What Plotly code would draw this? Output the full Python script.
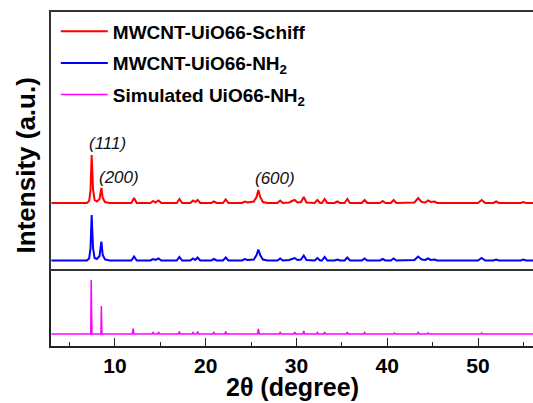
import plotly.graph_objects as go

# ---- data ----
schiff_x = [3.0, 6.9, 7.15, 7.3, 7.43, 7.58, 7.75, 8.0, 8.3, 8.5, 8.65, 8.9, 9.4,
            11.8, 12.1, 12.4, 13.9, 14.2, 14.45, 14.8, 15.1, 16.8, 17.1, 17.4,
            18.3, 18.6, 18.85, 19.1, 19.4, 20.6, 20.9, 21.2, 21.9, 22.2, 22.5,
            24.0, 24.3, 24.6, 25.3, 25.6, 25.8, 26.0, 26.3, 26.8, 27.9, 28.2, 28.5,
            29.2, 29.5, 29.8, 30.1, 30.5, 30.8, 31.1, 32.0, 32.3, 32.6, 32.8, 33.1,
            33.4, 34.2, 34.5, 34.8, 35.3, 35.6, 35.9, 37.2, 37.5, 37.8, 39.2, 39.5,
            39.8, 40.4, 40.7, 41.0, 43.0, 43.4, 43.8, 44.2, 44.5, 44.8, 45.2, 45.5,
            50.0, 50.4, 50.8, 51.7, 52.0, 52.3, 54.7, 55.0, 55.3, 56.3]
schiff_y = [66, 66, 68, 78, 114, 80, 69, 67.5, 70, 81, 71, 67, 66,
            66, 71, 66, 66, 68, 66.5, 68.5, 66, 66, 70, 66,
            66, 68.5, 67, 69, 66, 66, 67.5, 66, 66, 69.5, 66,
            66, 67.5, 66.5, 67.5, 72, 79, 72, 67, 66, 66, 68.5, 66,
            66.5, 68, 69, 66.5, 67, 72, 66.5, 66, 69, 66, 66, 70,
            66, 66, 67.5, 66, 66, 70, 66, 66, 69, 66, 66, 68,
            66, 66, 69, 66, 66.5, 71, 67, 66.5, 68.5, 67, 67.5, 66,
            66, 69, 66, 66, 67.5, 66, 66, 67, 66, 66]

nh2_x = schiff_x
nh2_y = [8.5, 8.5, 10.5, 20, 54, 21, 11, 10, 13, 27.5, 14, 9.5, 8.5,
         8.5, 12.5, 8.5, 8.5, 10, 9, 10.5, 8.5, 8.5, 12, 8.5,
         8.5, 10.5, 9, 11.5, 8.5, 8.5, 10, 8.5, 8.5, 11.5, 8.5,
         8.5, 10, 9, 9.5, 14, 19.5, 14, 9.5, 8.5, 8.5, 10.5, 8.5,
         9, 10, 11, 9, 9.5, 13.5, 9, 8.5, 11, 8.5, 8.5, 12,
         8.5, 8.5, 9.5, 8.5, 8.5, 11.5, 8.5, 8.5, 10.5, 8.5, 8.5, 10,
         8.5, 8.5, 10.5, 8.5, 9, 12.5, 9.5, 9, 10.5, 9, 9.5, 8.5,
         8.5, 11, 8.5, 8.5, 9.5, 8.5, 8.5, 9.5, 8.5, 8.5]

sim_x = [3.0, 7.33, 7.38, 7.46, 8.45, 8.5, 8.56, 11.9, 12.0, 12.1, 14.1, 14.2, 14.3,
         14.7, 14.8, 14.9, 17.0, 17.1, 17.2, 18.5, 18.6, 18.7, 19.0, 19.1, 19.2,
         20.8, 20.9, 21.0, 22.1, 22.2, 22.3, 25.7, 25.8, 25.9, 28.1, 28.2, 28.3,
         29.7, 29.8, 29.9, 30.7, 30.8, 30.9, 32.2, 32.3, 32.4, 33.0, 33.1, 33.2,
         35.5, 35.6, 35.7, 37.4, 37.5, 37.6, 40.7, 40.8, 40.9, 43.3, 43.4, 43.5,
         44.4, 44.5, 44.6, 50.3, 50.4, 50.5, 56.3]
sim_y = [12, 12, 66, 12, 12, 40, 12, 12, 17.5, 12, 12, 14, 12,
         12, 14, 12, 12, 14.5, 12, 12, 13.5, 12, 12, 14.5, 12,
         12, 13.5, 12, 12, 14.5, 12, 12, 17, 12, 12, 13.5, 12,
         12, 14, 12, 12, 15, 12, 12, 13.5, 12, 12, 14, 12,
         12, 14, 12, 12, 13.5, 12, 12, 13, 12, 12, 13.5, 12,
         12, 13, 12, 12, 13, 12, 12]

series_names = ["MWCNT-UiO66-Schiff", "MWCNT-UiO66-NH<sub>2</sub>",
                "Simulated UiO66-NH<sub>2</sub>"]
series_colors = ["#ff0000", "#0000ff", "#ff00ff"]

peak_labels = ["(111)", "(200)", "(600)"]
peak_label_x = [9.2, 10.45, 27.6]
peak_label_y = [126, 92, 91]

FONT = "Liberation Sans, Arial, sans-serif"

fig = go.Figure()
fig.add_trace(go.Scatter(x=schiff_x, y=schiff_y, mode="lines",
                         name="<b>" + series_names[0] + "</b>",
                         line=dict(color=series_colors[0], width=2),
                         xaxis="x2", yaxis="y", legendgroup="a"))
fig.add_trace(go.Scatter(x=nh2_x, y=nh2_y, mode="lines",
                         name="<b>" + series_names[1] + "</b>",
                         line=dict(color=series_colors[1], width=2),
                         xaxis="x2", yaxis="y", legendgroup="b"))
fig.add_trace(go.Scatter(x=sim_x, y=sim_y, mode="lines",
                         name="<b>" + series_names[2] + "</b>",
                         line=dict(color=series_colors[2], width=1.5),
                         xaxis="x", yaxis="y2", legendgroup="c"))

for t, xx, yy in zip(peak_labels, peak_label_x, peak_label_y):
    fig.add_annotation(x=xx, y=yy, xref="x2", yref="y", text="<i>" + t + "</i>",
                       showarrow=False, font=dict(family=FONT, size=17, color="#111"))

fig.add_annotation(x=-0.051, y=0.542, xref="paper", yref="paper",
                   text="<b>Intensity (a.u.)</b>", textangle=-90, showarrow=False,
                   xanchor="center", yanchor="middle",
                   font=dict(family=FONT, size=26, color="#000"))
fig.add_annotation(x=0.5, y=-0.122, xref="paper", yref="paper",
                   text="<b>2θ (degree)</b>", showarrow=False, borderpad=0,
                   xanchor="center", yanchor="middle",
                   font=dict(family=FONT, size=25, color="#000"))

split = 77 / 334
xr = [2.95, 56.06]
fig.update_layout(
    width=533, height=403,
    margin=dict(l=51, r=0, t=12, b=57, autoexpand=False),
    paper_bgcolor="white", plot_bgcolor="white",
    showlegend=True,
    legend=dict(x=0.01, y=0.999, xanchor="left", yanchor="top",
                bgcolor="rgba(0,0,0,0)", tracegroupgap=4, itemwidth=47,
                font=dict(family=FONT, size=19, color="#000")),
    xaxis=dict(domain=[0, 1], range=xr, anchor="y2", showline=True,
               linecolor="#222", linewidth=1.5, showgrid=False, zeroline=False,
               ticks="inside", ticklen=8, tickwidth=1.2, tickcolor="#222",
               dtick=10, tick0=0, automargin=False,
               minor=dict(ticks="inside", ticklen=4, dtick=10, tick0=5,
                          tickcolor="#222", tickwidth=1.2),
               tickfont=dict(family=FONT, size=21, color="#000"),
               tickprefix="<b>", ticksuffix="</b>"),
    xaxis2=dict(domain=[0, 1], range=xr, anchor="y", matches="x",
                showline=True, mirror=True, linecolor="#333", linewidth=1.8,
                showgrid=False, zeroline=False, showticklabels=False, ticks=""),
    yaxis=dict(domain=[split, 1], range=[0, 257], anchor="x2", showline=True,
               linecolor="#333", linewidth=1.8, showgrid=False, zeroline=False,
               showticklabels=False, ticks=""),
    yaxis2=dict(domain=[0, split], range=[0, 77], anchor="x", showline=True,
                linecolor="#222", linewidth=1.5, showgrid=False, zeroline=False,
                showticklabels=False, ticks=""),
)

fig.write_html("out.html", config={"displayModeBar": False},
               post_script="document.body.style.margin='0';document.body.style.padding='0';")
